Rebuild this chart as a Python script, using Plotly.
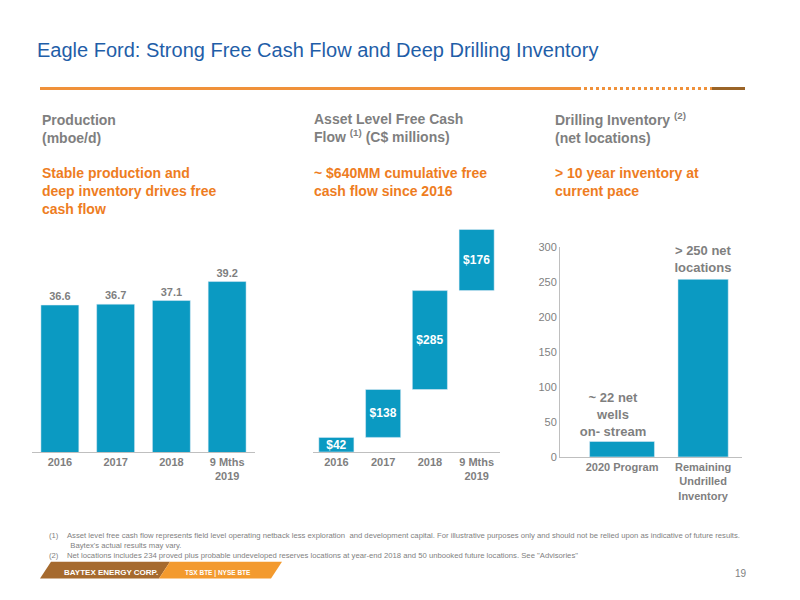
import plotly.graph_objects as go

prod_cats = ["2016", "2017", "2018", "9 Mths<br>2019"]
prod_vals = [36.6, 36.7, 37.1, 39.2]
fcf_cats = ["2016", "2017", "2018", "9 Mths<br>2019"]
fcf_vals = [42, 138, 285, 176]
inv_cats = ["2020 Program", "Remaining<br>Undrilled<br>Inventory"]
inv_vals = [22, 254]

BLUE = "#0b9ac2"
ORANGE = "#ee7d1f"
GRAY = "#7f7f7f"
TITLE = "#1f5ea8"
FONT = "Liberation Sans"
W, H = 784, 595

def X(p): return (p - 8) / W
def Y(p): return 1 - (p - 5) / H

fig = go.Figure()
fig.add_bar(x=prod_cats, y=prod_vals, marker_color=BLUE, width=0.68,
            text=[f"<b>{v:.1f}</b>" for v in prod_vals], textposition="outside",
            textfont=dict(color=GRAY, size=11, family=FONT), cliponaxis=False,
            xaxis="x", yaxis="y")
bases = []
acc = 0
for v in fcf_vals:
    bases.append(acc); acc += v
fig.add_bar(x=fcf_cats, y=fcf_vals, base=bases, marker_color=BLUE, width=0.75,
            text=[f"<b>${v}</b>" for v in fcf_vals], textposition="inside",
            insidetextanchor="middle", constraintext="none",
            textfont=dict(color="white", size=12, family=FONT),
            xaxis="x2", yaxis="y2")
fig.add_bar(x=[0, 1], y=inv_vals, marker_color=BLUE, width=[0.8, 0.62],
            xaxis="x3", yaxis="y3")

ax_font = dict(color=GRAY, size=11, family=FONT)
fig.update_layout(
    width=W, height=H, margin=dict(l=0, r=0, t=0, b=0),
    paper_bgcolor="white", plot_bgcolor="white", showlegend=False,
    font=dict(family=FONT),
    xaxis=dict(domain=[X(32), X(255)], anchor="y", showline=True, linecolor="#bfbfbf",
               ticks="", showgrid=False, range=[-0.5, 3.5]),
    yaxis=dict(domain=[Y(452), Y(250)], anchor="x", range=[20.35, 42.24], visible=False),
    xaxis2=dict(domain=[X(313), X(500)], anchor="y2", showline=True, linecolor="#bfbfbf",
                ticks="", showgrid=False, range=[-0.5, 3.5]),
    yaxis2=dict(domain=[Y(452), Y(220)], anchor="x2", range=[0, 655], visible=False),
    xaxis3=dict(domain=[X(560), X(742)], anchor="y3", showline=True, linecolor="#bfbfbf",
                tickmode="array", tickvals=[0, 1], ticktext=inv_cats,
                ticks="", showgrid=False, range=[-0.765, 1.48]),
    yaxis3=dict(domain=[Y(457), Y(243)], anchor="x3", range=[0, 300], dtick=50,
                showline=True, linecolor="#bfbfbf", showgrid=False, tickfont=ax_font,
                ticks="", zeroline=False),
)
fig.update_xaxes(tickfont=dict(color=GRAY, size=11, family="Liberation Sans"))
fig.update_xaxes(ticktext=["<b>2016</b>", "<b>2017</b>", "<b>2018</b>", "<b>9 Mths<br>2019</b>"],
                 tickvals=prod_cats, tickmode="array", selector=dict(anchor="y"))
fig.update_xaxes(ticktext=["<b>2016</b>", "<b>2017</b>", "<b>2018</b>", "<b>9 Mths<br>2019</b>"],
                 tickvals=fcf_cats, tickmode="array", selector=dict(anchor="y2"))
fig.update_xaxes(ticktext=["<b>2020 Program</b>", "<b>Remaining<br>Undrilled<br>Inventory</b>"],
                 selector=dict(anchor="y3"))

anns = [
    (35, 42, "Eagle Ford: Strong Free Cash Flow and Deep Drilling Inventory", 20, TITLE),
    (40, 122, "<b>Production<br>(mboe/d)</b>", 14, GRAY),
    (40, 186, "<b>Stable production and<br>deep inventory drives free<br>cash flow</b>", 14, ORANGE),
    (312, 121, "<b>Asset Level Free Cash<br>Flow <sup>(1)</sup> (C$ millions)</b>", 14, GRAY),
    (312, 176, "<b>~ $640MM cumulative free<br>cash flow since 2016</b>", 14, ORANGE),
    (553, 121, "<b>Drilling Inventory <sup>(2)</sup><br>(net locations)</b>", 14, GRAY),
    (553, 176, "<b>> 10 year inventory at<br>current pace</b>", 14, ORANGE),
]
for x, y, t, s, c in anns:
    fig.add_annotation(x=X(x), y=Y(y), xref="paper", yref="paper", text=t, showarrow=False,
                       xanchor="left", yanchor="middle", align="left",
                       font=dict(size=s, color=c, family=FONT))
for x, y, t in [(703, 255, "<b>> 250 net<br>locations</b>"), (613, 414, "<b>~ 22 net<br>wells<br>on- stream</b>")]:
    fig.add_annotation(x=X(x), y=Y(y), xref="paper", yref="paper", text=t, showarrow=False,
                       xanchor="center", yanchor="middle", align="center", width=110,
                       font=dict(size=13, color=GRAY, family=FONT))

foot = ("(1)&nbsp;&nbsp;&nbsp;&nbsp;Asset level free cash flow represents field level operating netback less exploration  and development capital. For illustrative purposes only and should not be relied upon as indicative of future results.<br>"
        "&nbsp;&nbsp;&nbsp;&nbsp;&nbsp;&nbsp;&nbsp;&nbsp;&nbsp;&nbsp;Baytex's actual results may vary.<br>"
        "(2)&nbsp;&nbsp;&nbsp;&nbsp;Net locations includes 234 proved plus probable undeveloped reserves locations at year-end 2018 and 50 unbooked future locations. See \"Advisories\"")
fig.add_annotation(x=X(47), y=Y(547), xref="paper", yref="paper", text=foot, showarrow=False,
                   xanchor="left", yanchor="middle", align="left",
                   font=dict(size=7.7, color=GRAY, family=FONT))
fig.add_annotation(x=X(749), y=Y(576), xref="paper", yref="paper", text="19", showarrow=False,
                   xanchor="right", yanchor="middle", font=dict(size=10, color=GRAY, family=FONT))

shapes = [
    dict(type="line", x0=X(40), x1=X(578), y0=Y(81), y1=Y(81), line=dict(color="#f0913a", width=3)),
    dict(type="line", x0=X(578), x1=X(712), y0=Y(81), y1=Y(81), line=dict(color="#f0913a", width=3, dash="dot")),
    dict(type="line", x0=X(712), x1=X(745), y0=Y(81), y1=Y(81), line=dict(color="#9a6428", width=3)),
    dict(type="path", path=f"M {X(40)} {Y(581)} L {X(51)} {Y(564)} L {X(170)} {Y(564)} L {X(159)} {Y(581)} Z",
         fillcolor="#a66a2e", line=dict(width=0)),
    dict(type="path", path=f"M {X(159)} {Y(581)} L {X(170)} {Y(564)} L {X(282)} {Y(564)} L {X(271)} {Y(581)} Z",
         fillcolor="#f39a2e", line=dict(width=0)),
]
for s in shapes:
    s.update(xref="paper", yref="paper")
fig.update_layout(shapes=shapes)
fig.add_annotation(x=X(62), y=Y(575), xref="paper", yref="paper", text="<b>BAYTEX ENERGY CORP.</b>",
                   showarrow=False, xanchor="left", yanchor="middle", font=dict(size=8, color="white", family=FONT))
fig.add_annotation(x=X(183), y=Y(575), xref="paper", yref="paper", text="<b>TSX BTE | NYSE BTE</b>",
                   showarrow=False, xanchor="left", yanchor="middle", font=dict(size=6.5, color="white", family=FONT))

fig.write_html("out.html")
